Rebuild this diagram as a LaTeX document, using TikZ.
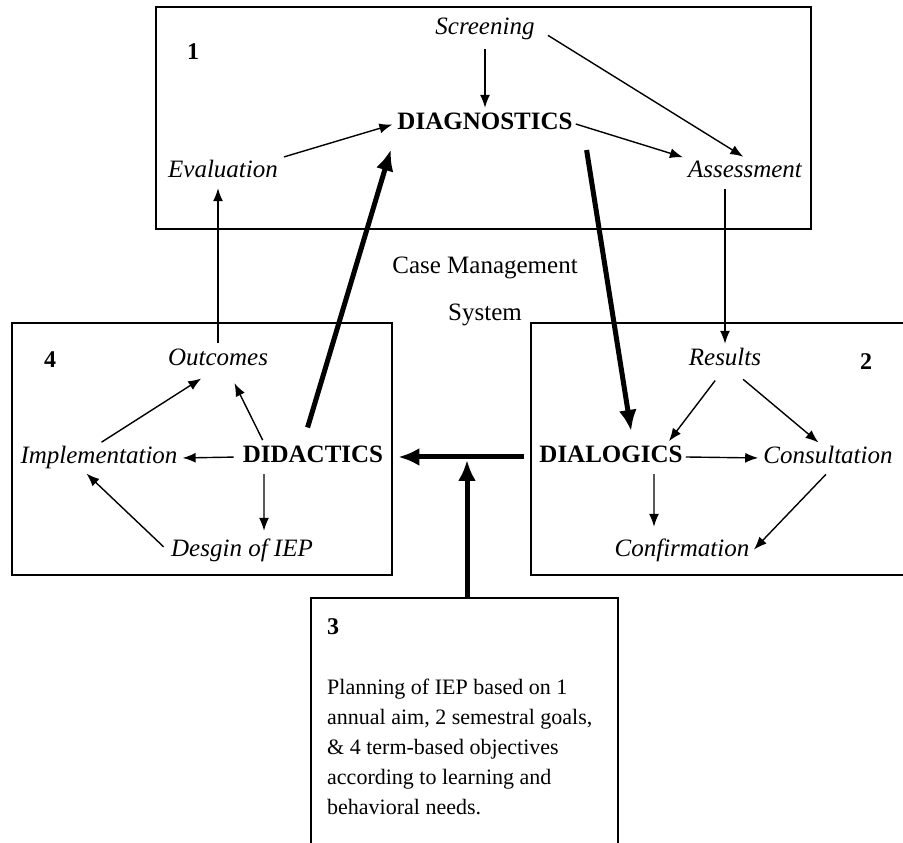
\documentclass[tikz,border=0pt]{standalone}
\usepackage{fontspec}
\setmainfont{Liberation Serif}
\usetikzlibrary{arrows.meta}

\begin{document}
\begin{tikzpicture}
	[x=10pt, y=10pt, inner sep=3pt,
	term/.style	= {font=\fontsize{25}{30}\selectfont\itshape, text height=17pt, text depth=5pt},
	hub/.style	= {font=\fontsize{25}{30}\selectfont\bfseries, text height=17pt, text depth=5pt},
	stage/.style	= {font=\fontsize{24}{28}\selectfont\bfseries, inner sep=0pt},
	frame/.style	= {draw, line width=1.4pt},
	paths/.style	= {-{Latex[length=13pt,width=10pt]}, line width=1.4pt, shorten >=2pt, shorten <=3pt},
	flow/.style	= {-{Latex[length=21pt,width=18pt]}, line width=5pt, shorten >=12pt, shorten <=12pt}]
	
	\useasboundingbox (0, 0) rectangle (90.3, 84.3);
	
	% boxes
	\draw [frame] (15.6, 83.6) rectangle (81.1, 61.4);
	\draw [frame] (1.2, 52.0) rectangle (39.2, 26.8);
	\draw [frame] (90.3, 52.0) -- (53.1, 52.0) -- (53.1, 26.8) -- (90.3, 26.8);
	\draw [frame] (31.1, -0.5) -- (31.1, 24.5) -- (61.8, 24.5) -- (61.8, -0.5);
	
	\node at (19.3, 79.1)	[stage]	(n1)	{1};
	\node at (5.0, 48.3)	[stage]	(n4)	{4};
	\node at (86.6, 48.1)	[stage]	(n2)	{2};
	\node at (33.3, 21.6)	[stage]	(n3)	{3};
	
	\node at (48.5, 81.4)	[term]	(scr)	{Screening};
	\node at (48.5, 71.9)	[hub]	(diag)	{DIAGNOSTICS};
	\node at (22.3, 67.1)	[term]	(eval)	{Evaluation};
	\node at (74.5, 67.1)	[term]	(ass)	{Assessment};
	
	\node at (48.5, 55.2)	[align=center, font=\fontsize{25}{47}\selectfont]	(cms)	{Case Management\\System};
	
	\node at (21.8, 48.3)	[term]	(out)	{Outcomes};
	\node at (9.9, 38.5)	[term]	(imp)	{Implementation};
	\node at (31.3, 38.6)	[hub]	(did)	{DIDACTICS};
	\node at (24.2, 29.2)	[term]	(des)	{Desgin of IEP};
	
	\node at (72.5, 48.3)	[term]	(res)	{Results};
	\node at (61.1, 38.6)	[hub]	(dial)	{DIALOGICS};
	\node at (82.8, 38.5)	[term]	(cons)	{Consultation};
	\node at (68.2, 29.2)	[term]	(conf)	{Confirmation};
	
	\node at (32.4, 16.7)	[anchor=north west, align=left, font=\fontsize{22}{30}\selectfont]	(plan)
		{Planning of IEP based on 1\\annual aim, 2 semestral goals,\\\& 4 term-based objectives\\according to learning and\\behavioral needs.};
	
	\coordinate (b3)	at (46.7, 24.5);
	\coordinate (join)	at (46.7, 38.3);
	
	% box 1
	\draw [paths, shorten <=6pt] (scr.south) -- (diag.north);
	\draw [paths, shorten <=12pt] (scr.east) -- (ass.north);
	\draw [paths] (eval.north east) -- (diag.west);
	\draw [paths, shorten <=0pt] (diag.east) -- (ass.north west);
	
	% links between boxes
	\draw [paths] (out.north) -- (out.north |- eval.south);
	\draw [paths] (res.north |- ass.south) -- (res.north);
	
	% box 2
	\draw [paths, shorten <=8pt] ([xshift=-5pt]res.south) -- ([xshift=-18pt]dial.north east);
	\draw [paths, shorten <=8pt] ([xshift=12pt]res.south) -- ([xshift=-8pt]cons.north);
	\draw [paths, shorten <=0pt] (dial.east) -- (cons.west);
	\draw [paths, shorten >=10pt] ([xshift=43pt]dial.south) -- ([xshift=-28pt]conf.north);
	\draw [paths] (cons.south) -- (conf.east);
	
	% box 4
	\draw [paths, shorten >=10pt] ([xshift=-49pt]did.north) -- ([xshift=12pt]out.south);
	\draw [paths, shorten <=6pt] (did.west) -- (imp.east);
	\draw [paths, shorten >=8pt] (imp.north) -- ([xshift=-10pt]out.south);
	\draw [paths, shorten >=6pt] ([xshift=-49pt]did.south) -- ([xshift=22pt]des.north);
	\draw [paths, shorten <=6pt] (des.west) -- ([xshift=-14pt]imp.south);
	
	% main cycle
	\draw [flow, shorten <=16pt] ([xshift=-10pt]did.north) -- (diag.south west);
	\draw [flow] ([xshift=9pt]diag.south east) -- ([xshift=22pt]dial.north);
	\draw [flow] (dial.west) -- (did.east);
	\draw [flow, shorten <=0pt, shorten >=0pt] (b3) -- (join);
\end{tikzpicture}
\end{document}
